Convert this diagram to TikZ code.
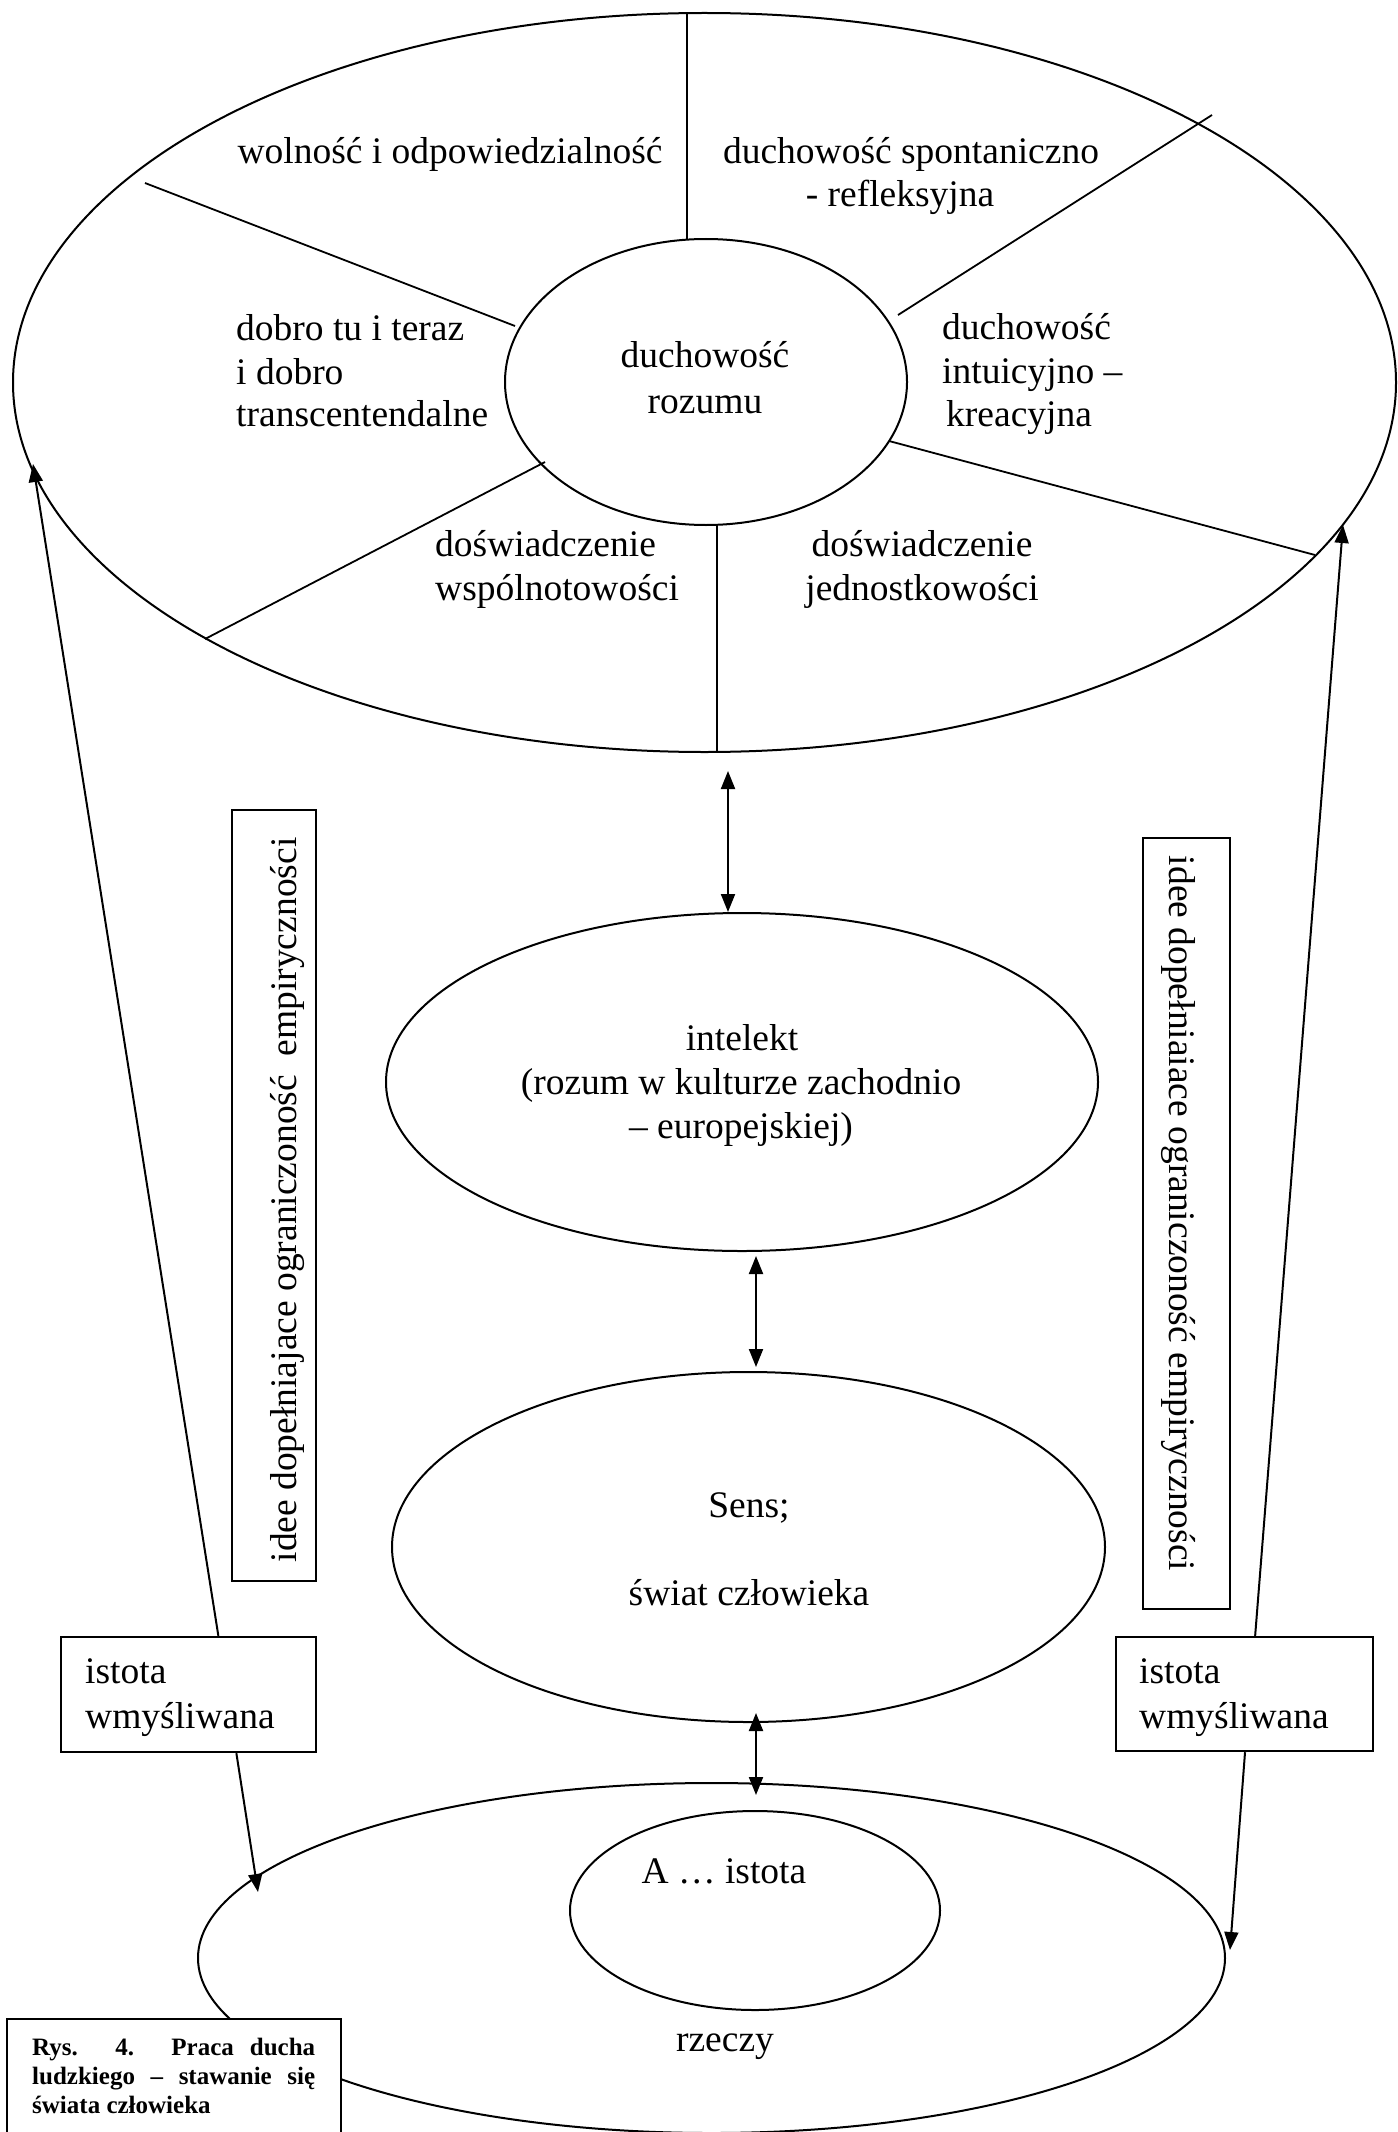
\documentclass[tikz,border=0pt]{standalone}
\usepackage{fontspec}
\setmainfont{Liberation Serif}
\usetikzlibrary{shapes.geometric,arrows.meta,calc}
\begin{document}
\begin{tikzpicture}[x=1pt,y=-1pt,
  spoke/.style={line width=1.8pt},
  oval/.style={draw, ellipse, line width=2pt, inner sep=0pt},
  box/.style={draw, rectangle, line width=2.4pt, inner sep=0pt},
  txt/.style={inner sep=0pt, font=\fontsize{37.5}{43}\selectfont},
  captxt/.style={inner sep=0pt, anchor=base west, font=\fontsize{25}{29}\selectfont\bfseries},
  arr/.style={line width=2pt, -{Triangle[length=18pt,width=14pt]}},
  darr/.style={line width=2pt, {Triangle[length=18pt,width=14pt]}-{Triangle[length=18pt,width=14pt]}},
]
\fill[white] (0,0) rectangle (1397,2132);
\useasboundingbox (0,0) rectangle (1397,2132);

% ellipses
\node[oval, minimum width=1383pt, minimum height=739pt] (outer) at (704.5,382.5) {};
\node[oval, minimum width=402pt, minimum height=286pt] (core) at (706,382) {};
\node[oval, minimum width=712pt, minimum height=338pt] (intel) at (742,1082) {};
\node[oval, minimum width=713pt, minimum height=350pt] (sens) at (748.5,1547) {};
\node[oval, minimum width=1027pt, minimum height=350pt] (things) at (711.5,1958) {};
\node[oval, minimum width=370pt, minimum height=199pt] (essence) at (755,1910.5) {};

% spokes of the wheel
\draw[spoke] (687,13) -- (687,240);
\draw[spoke] (145,183) -- (515,326);
\draw[spoke] (1212,115) -- (898,315);
\draw[spoke] (889,441) -- (1315,555);
\draw[spoke] (545,462) -- (205,639);
\draw[spoke] (717,525) -- (717,752);

% boxes
\node[box, minimum width=84pt, minimum height=771pt] (ideaL) at (274,1195.5) {};
\node[box, minimum width=87pt, minimum height=771pt] (ideaR) at (1186.5,1223.5) {};
\node[box, minimum width=255pt, minimum height=115pt] (istL) at (188.5,1694.5) {};
\node[box, minimum width=257pt, minimum height=114pt] (istR) at (1244.5,1694) {};

% arrow end points
\coordinate (tipL) at (33,464);
\coordinate (tipR) at (1343,525);
\coordinate (tipLL) at (258,1892);
\coordinate (tipRR) at (1230,1950);
\coordinate (d1a) at (728,771);
\coordinate (d1b) at (728,912);
\coordinate (d2a) at (756,1256);
\coordinate (d2b) at (756,1367);
\coordinate (d3a) at (756,1713);
\coordinate (d3b) at (756,1795);

% arrows
\draw[arr] ($(istL.north west)!0.616!(istL.north east)$) -- (tipL);
\draw[arr] ($(istR.north west)!0.541!(istR.north east)$) -- (tipR);
\draw[arr] ($(istL.south west)!0.686!(istL.south east)$) -- (tipLL);
\draw[arr] ($(istR.south west)!0.502!(istR.south east)$) -- (tipRR);
\draw[darr] (d1a) -- (d1b);
\draw[darr] (d2a) -- (d2b);
\draw[darr] (d3a) -- (d3b);

% caption box (covers the ellipse)
\node[box, fill=white, minimum width=334pt, minimum height=130pt] (caption) at (174,2084) {};

% texts in the wheel
\node[txt, anchor=base] (w1) at (450,164) {wolność i odpowiedzialność};
\node[txt, anchor=base] (w2) at (911,164) {duchowość spontaniczno};
\node[txt, anchor=base] (w2b) at (900,207) {- refleksyjna};
\node[txt, anchor=base west] (w3a) at (236,340) {dobro tu i teraz};
\node[txt, anchor=base west] (w3b) at (236,384) {i dobro};
\node[txt, anchor=base west] (w3c) at (236,426) {transcentendalne};
\node[txt, anchor=base] (c1) at (705,367) {duchowość};
\node[txt, anchor=base] (c2) at (705,413) {rozumu};
\node[txt, anchor=base west] (w4a) at (942,339) {duchowość};
\node[txt, anchor=base west] (w4b) at (942,383) {intuicyjno –};
\node[txt, anchor=base west] (w4c) at (946,426) {kreacyjna};
\node[txt, anchor=base west] (w5a) at (435,556) {doświadczenie};
\node[txt, anchor=base west] (w5b) at (435,600) {wspólnotowości};
\node[txt, anchor=base] (w6a) at (922,556) {doświadczenie};
\node[txt, anchor=base] (w6b) at (922,600) {jednostkowości};

% middle
\node[txt, anchor=base] (i1) at (742,1050) {intelekt};
\node[txt, anchor=base] (i2) at (741,1094) {(rozum w kulturze zachodnio};
\node[txt, anchor=base] (i3) at (741,1138) {– europejskiej)};
\node[txt, anchor=base] (s1) at (749,1517) {Sens;};
\node[txt, anchor=base] (s2) at (749,1605) {świat człowieka};

% side texts
\node[txt, rotate=90] (tideaL) at (288,1200) {idee dopełniajace ograniczoność\ \ empiryczności};
\node[txt, rotate=-90] (tideaR) at (1178,1213.5) {idee dopełniaiace ograniczoność empiryczności};
\node[txt, anchor=base west] (l1) at (85,1683) {istota};
\node[txt, anchor=base west] (l2) at (85,1728) {wmyśliwana};
\node[txt, anchor=base west] (r1) at (1139,1683) {istota};
\node[txt, anchor=base west] (r2) at (1139,1728) {wmyśliwana};

% bottom
\node[txt, anchor=base] (a1) at (724,1883) {A … istota};
\node[txt, anchor=base] (z1) at (725,2051) {rzeczy};

% caption
\node[captxt] (cp1) at (32,2055) {\makebox[283pt][s]{Rys. 4. Praca ducha}};
\node[captxt] (cp2) at (32,2084) {\makebox[283pt][s]{ludzkiego – stawanie się}};
\node[captxt] (cp3) at (32,2113) {świata człowieka};
\end{tikzpicture}
\end{document}
